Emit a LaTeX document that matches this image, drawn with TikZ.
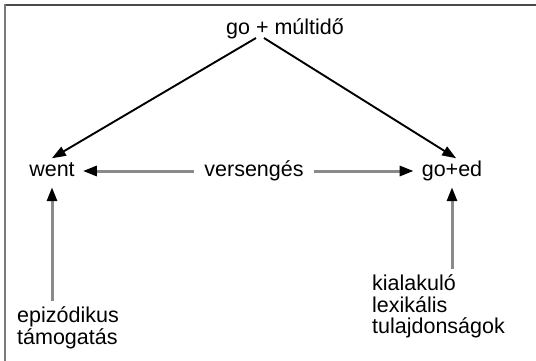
\documentclass[tikz,border=0pt]{standalone}
\usepackage{fontspec}
\setmainfont{Liberation Sans}
\usetikzlibrary{arrows.meta}

\definecolor{shaft}{HTML}{8A8A8A}
\definecolor{rule}{HTML}{4A4A4A}
\definecolor{siderule}{HTML}{7A7A7A}

\tikzset{
  label text/.style={inner sep=0pt, font=\fontsize{21.5}{21.5}\selectfont},
  row text/.style={label text, inner sep=2pt, text height=15pt, text depth=5pt},
  stack text/.style={label text, align=left, anchor=north west},
  head/.style={-{Triangle[length=14pt,width=10pt,color=black]}},
  derive/.style={head, draw=black, line width=1.9pt},
  feed/.style={head, draw=shaft, line width=3pt},
}

\begin{document}
\begin{tikzpicture}[x=1pt,y=-1pt]
  \useasboundingbox (0,0) rectangle (536,361);

  % frame edges
  \draw[rule, line width=1.6pt] (4.5,5) -- (536,5);
  \draw[siderule, line width=2.2pt] (5,4.5) -- (5,361);

  % top form
  \node[label text, anchor=base] (top) at (285,35) {go + múltidő};
  \coordinate (plusL) at (256,38);
  \coordinate (plusR) at (264,38);

  % competing forms
  \node[row text, anchor=base] (went) at (52,176) {went};
  \node[row text, anchor=base] (vers) at (254,176) {versengés};
  \node[row text, anchor=base] (goed) at (452,176) {go+ed};

  % supporting factors
  \node[stack text] (epi) at (17,306.5) {epizódikus\\támogatás};
  \node[stack text] (kial) at (372,274.5) {kialakuló\\lexikális\\tulajdonságok};

  % derivations from the top form
  \draw[derive, shorten >=1pt] (plusL) -- ([xshift=-1pt]went.north);
  \draw[derive, shorten >=1pt] (plusR) -- ([xshift=5pt]goed.north);

  % competition arrows
  \draw[feed, shorten <=8pt, shorten >=6pt] (vers.west) -- (went.east);
  \draw[feed, shorten <=8pt, shorten >=6pt] (vers.east) -- (goed.west);

  % support arrows
  \draw[feed, shorten <=6pt, shorten >=4pt] (epi.north -| went.south) -- (went.south);
  \draw[feed, shorten <=6pt, shorten >=4pt] (kial.north -| goed.south) -- (goed.south);
\end{tikzpicture}
\end{document}
